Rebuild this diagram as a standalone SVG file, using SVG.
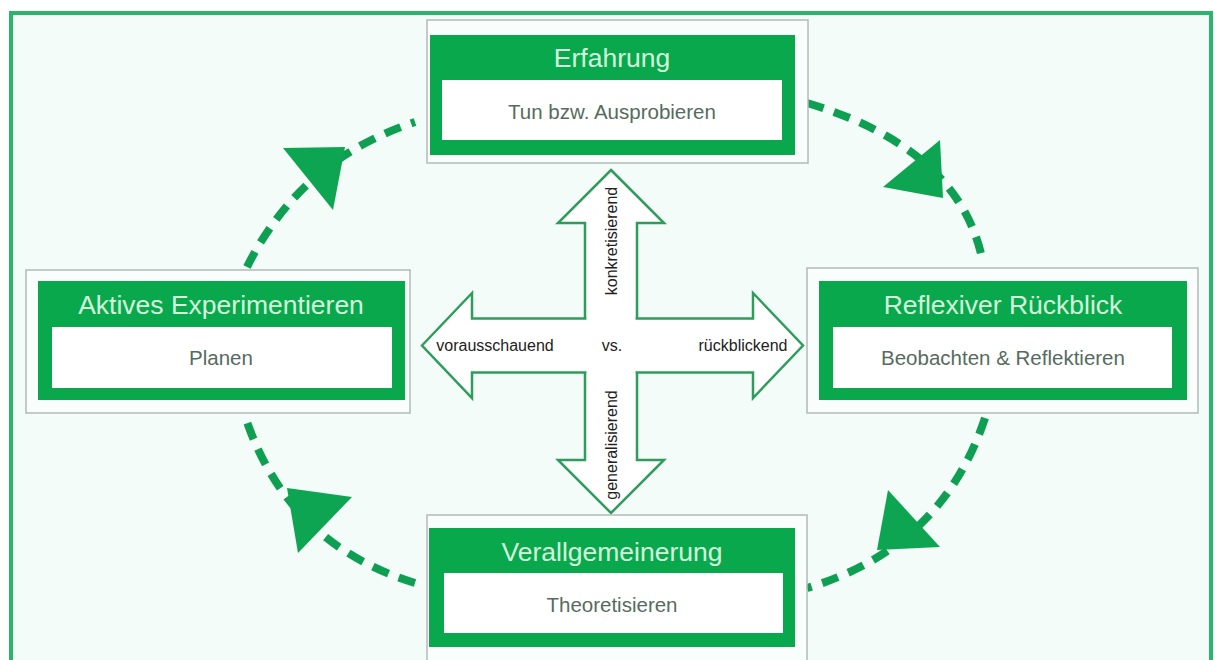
<svg xmlns="http://www.w3.org/2000/svg" width="1215" height="660" viewBox="0 0 1215 660">
<style>
.frame{fill:#f3fcf8;stroke:#2bb46b;stroke-width:4}
.outer{fill:#f9fdfb;stroke:#b2bbb6;stroke-width:1.5}
.green{fill:#0aa84c}
.inner{fill:#ffffff}
.title{font-family:"Liberation Sans",Arial,sans-serif;font-size:26.5px;fill:#d2f7dc;text-anchor:middle}
.sub{font-family:"Liberation Sans",Arial,sans-serif;font-size:20.5px;fill:#566b5e;text-anchor:middle}
.dash{fill:none;stroke:#0e9f52;stroke-width:8;stroke-dasharray:17 11}
.head{fill:#0ea552}
.cross{fill:#ffffff;stroke:#2f9c5c;stroke-width:2.5;stroke-linejoin:miter}
.lbl{font-family:"Liberation Sans",Arial,sans-serif;font-size:16px;fill:#222;text-anchor:middle}
</style>
<rect x="0" y="0" width="1215" height="660" fill="#ffffff"/>
<rect class="frame" x="11" y="13" width="1200" height="660"/>

<g id="connectors">
<path class="dash" d="M247,267 Q300,160 415,122"/>
<path class="dash" d="M807,103 Q958,148 982,258"/>
<path class="dash" d="M985,418 Q942,548 807,588"/>
<path class="dash" d="M415,583 Q290,545 247,422"/>
<polygon class="head" points="283,148 345,147 333,210"/>
<polygon class="head" points="940,140 943,198 883,187"/>
<polygon class="head" points="888,490 940,547 877,550"/>
<polygon class="head" points="287,488 352,497 298,553"/>
</g>

<g id="cross">
<polygon class="cross" points="611,170 664,223 637,223 637,460 664,460 611,513 558,460 585,460 585,223 558,223"/>
<polygon class="cross" points="422,345.5 472,293 472,318.5 753,318.5 753,293 803,345.5 753,398 753,372.5 472,372.5 472,398"/>
<rect x="586.5" y="317" width="49" height="57" fill="#ffffff"/>
<text class="lbl" x="495" y="351">vorausschauend</text>
<text class="lbl" x="612" y="351">vs.</text>
<text class="lbl" x="743" y="351">rückblickend</text>
<text class="lbl" transform="translate(617,241) rotate(-90)">konkretisierend</text>
<text class="lbl" transform="translate(617,445) rotate(-90)">generalisierend</text>
</g>

<g id="erfahrung">
<rect class="outer" x="427" y="20" width="381" height="143"/>
<rect class="green" x="430" y="35" width="365" height="120"/>
<rect class="inner" x="442" y="80" width="340" height="60"/>
<text class="title" x="612" y="67">Erfahrung</text>
<text class="sub" x="612" y="119">Tun bzw. Ausprobieren</text>
</g>

<g id="aktives-experimentieren">
<rect class="outer" x="26" y="270" width="384" height="143"/>
<rect class="green" x="38" y="281" width="367" height="119"/>
<rect class="inner" x="52" y="327" width="340" height="61"/>
<text class="title" x="221" y="314">Aktives Experimentieren</text>
<text class="sub" x="221" y="365">Planen</text>
</g>

<g id="reflexiver-rueckblick">
<rect class="outer" x="807" y="268" width="391" height="145"/>
<rect class="green" x="819" y="281" width="368" height="119"/>
<rect class="inner" x="833" y="327" width="339" height="61"/>
<text class="title" x="1003" y="314">Reflexiver Rückblick</text>
<text class="sub" x="1003" y="365">Beobachten &amp; Reflektieren</text>
</g>

<g id="verallgemeinerung">
<rect class="outer" x="427" y="515" width="380" height="155"/>
<rect class="green" x="429" y="528" width="366" height="119"/>
<rect class="inner" x="444" y="573" width="339" height="60"/>
<text class="title" x="612" y="561">Verallgemeinerung</text>
<text class="sub" x="612" y="612">Theoretisieren</text>
</g>
</svg>
